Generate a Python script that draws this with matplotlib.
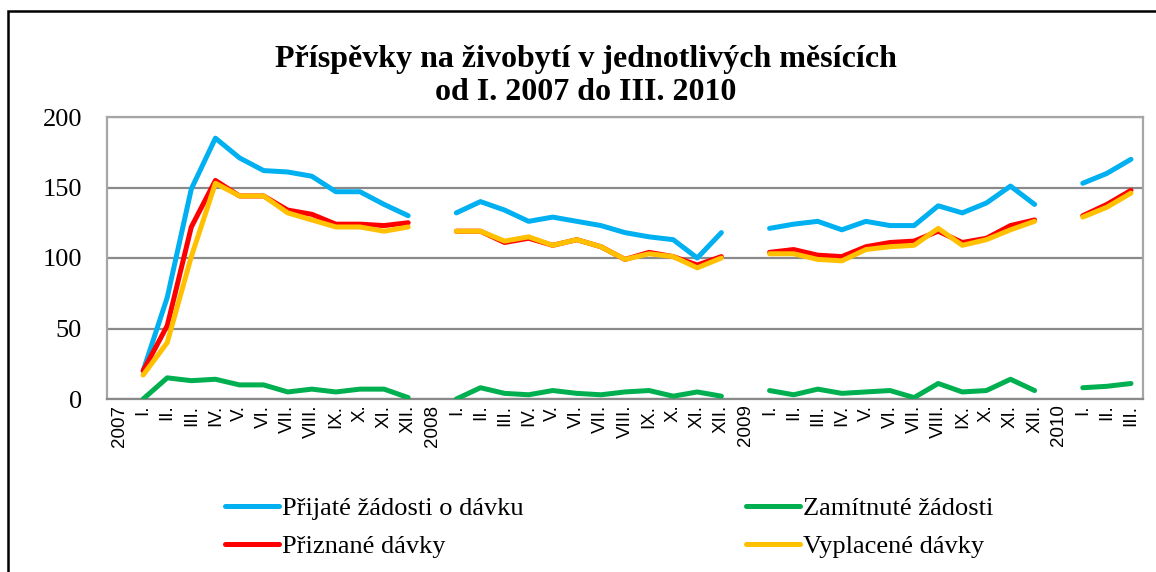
import numpy as np
import matplotlib
matplotlib.use("Agg")
import matplotlib.pyplot as plt
from matplotlib.patches import Rectangle

# ---- data ----
years = ["2007", "2008", "2009", "2010"]
months = ["I.", "II.", "III.", "IV.", "V.", "VI.", "VII.", "VIII.", "IX.", "X.", "XI.", "XII."]
months_2010 = ["I.", "II.", "III."]

prijate = {
    "2007": [20, 72, 149, 185, 171, 162, 161, 158, 147, 147, 138, 130],
    "2008": [132, 140, 134, 126, 129, 126, 123, 118, 115, 113, 100, 118],
    "2009": [121, 124, 126, 120, 126, 123, 123, 137, 132, 139, 151, 138],
    "2010": [153, 160, 170],
}
zamitnute = {
    "2007": [0, 15, 13, 14, 10, 10, 5, 7, 5, 7, 7, 1],
    "2008": [0, 8, 4, 3, 6, 4, 3, 5, 6, 2, 5, 2],
    "2009": [6, 3, 7, 4, 5, 6, 1, 11, 5, 6, 14, 6],
    "2010": [8, 9, 11],
}
priznane = {
    "2007": [20, 52, 122, 155, 144, 144, 134, 131, 124, 124, 123, 125],
    "2008": [119, 119, 111, 114, 109, 113, 108, 99, 104, 101, 95, 101],
    "2009": [104, 106, 102, 101, 108, 111, 112, 119, 111, 114, 123, 127],
    "2010": [130, 138, 148],
}
vyplacene = {
    "2007": [17, 40, 101, 153, 144, 144, 132, 127, 122, 122, 119, 122],
    "2008": [119, 119, 112, 115, 109, 113, 108, 99, 103, 101, 93, 100],
    "2009": [103, 103, 99, 98, 106, 108, 109, 121, 109, 113, 120, 126],
    "2010": [129, 136, 146],
}

# build category table: a year label category (no data) followed by its months
categories = []
def build(series):
    out = []
    for y in years:
        out.append(np.nan)
        out.extend(series[y])
    return np.array(out, dtype=float)

for y in years:
    categories.append(y)
    categories.extend(months if y != "2010" else months_2010)

series = [
    ("Přijaté žádosti o dávku", build(prijate), "#00B0F0"),
    ("Zamítnuté žádosti", build(zamitnute), "#00B050"),
    ("Přiznané dávky", build(priznane), "#FF0000"),
    ("Vyplacené dávky", build(vyplacene), "#FFC000"),
]

# ---- figure ----
W, H = 1156, 572
fig = plt.figure(figsize=(W / 100, H / 100), dpi=100)
ax = fig.add_axes([107 / W, 1 - 399 / H, (1143 - 107) / W, (399 - 117) / H])

x = np.arange(len(categories))
handles = {}
for name, vals, col in series:
    (ln,) = ax.plot(x, vals, color=col, lw=3.6, solid_capstyle="round",
                    solid_joinstyle="round", label=name, zorder=3)
    handles[name] = ln

ax.set_xlim(-0.5, len(categories) - 0.5)
ax.set_ylim(0, 200)
ax.set_yticks([0, 50, 100, 150, 200])
ax.set_xticks(x)
ax.set_xticklabels(categories, rotation=90, family="Liberation Sans", fontsize=13.5)
for lab in ax.get_yticklabels():
    lab.set_family("Liberation Serif")
    lab.set_fontsize(19)
ax.tick_params(axis="both", length=0)
ax.tick_params(axis="y", pad=18)
ax.tick_params(axis="x", pad=4)
ax.grid(axis="y", color="#8A8A8A", lw=1.6, zorder=0)
for s in ax.spines.values():
    s.set_color("#A6A6A6")
    s.set_linewidth(1.6)
ax.spines["bottom"].set_color("#8A8A8A")

# title
fig.text(586 / W, 1 - 76 / H,
         "Příspěvky na živobytí v jednotlivých měsících\nod I. 2007 do III. 2010",
         ha="center", va="center", family="Liberation Serif", fontweight="bold",
         fontsize=23, linespacing=1.15)

# legend
order = ["Přijaté žádosti o dávku", "Přiznané dávky", "Zamítnuté žádosti", "Vyplacené dávky"]
fig.legend([handles[n] for n in order], order, ncol=2, frameon=False,
           loc="upper left", bbox_to_anchor=(225 / W, 1 - 497 / H),
           prop={"family": "Liberation Serif", "size": 19},
           borderpad=0, borderaxespad=0, handlelength=2.05, handletextpad=0.12,
           columnspacing=8.4, labelspacing=0.55)

# outer frame
fig.patches.append(Rectangle((8 / W, -0.1), 1.2, 1.1 - 10.5 / H, transform=fig.transFigure,
                             fill=False, edgecolor="black", lw=1.8, zorder=10))

fig.savefig("out.png", dpi=100)
